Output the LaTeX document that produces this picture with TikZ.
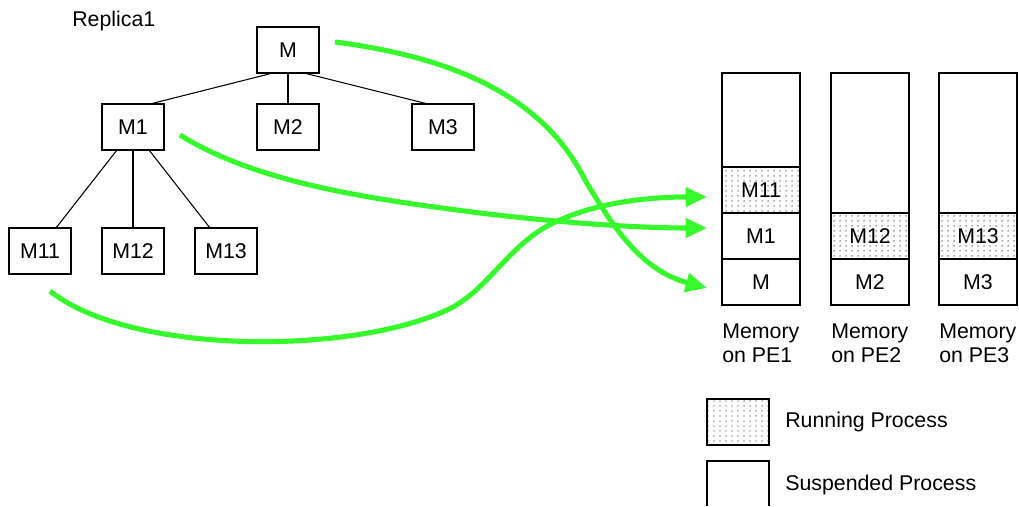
\documentclass[tikz,border=0pt]{standalone}
\usepackage{fontspec}
\setmainfont{Liberation Sans}
\usetikzlibrary{arrows.meta,calc,patterns.meta}
\definecolor{arrgreen}{RGB}{55,250,45}
\tikzdeclarepattern{
  name=sdots,
  type=uncolored,
  bounding box={(-0.7pt,-0.7pt) and (0.7pt,0.7pt)},
  tile size={(4.5pt,3.75pt)},
  code={\pgfpathcircle{\pgfpointorigin}{0.55pt}\pgfusepath{fill}}
}
\begin{document}
\begin{tikzpicture}[x=0.75pt,y=-0.75pt,
  every node/.style={font=\fontsize{16}{19}\selectfont},
  tbox/.style={draw,line width=1.1pt,minimum width=46.5pt,minimum height=34.5pt,inner sep=0pt,outer sep=0pt},
  memseg/.style={draw,line width=1.1pt,minimum width=58.5pt,inner sep=0pt,outer sep=0pt,anchor=north west},
  runfill/.style={pattern={sdots},pattern color=black!85},
  edge/.style={line width=0.8pt},
  arr/.style={draw=arrgreen,line width=3.8pt,-{Triangle[length=16pt,width=14pt]}},
  plain/.style={inner sep=0pt}
]
\useasboundingbox (0,0) rectangle (1019,506);

% tree
\node[plain,anchor=base west] (rep) at (72,27) {Replica1};
\node[tbox] (M) at (288,50) {M};
\node[tbox] (M1) at (133,127) {M1};
\node[tbox] (M2) at (288,127) {M2};
\node[tbox] (M3) at (443,127) {M3};
\node[tbox] (M11) at (40,251) {M11};
\node[tbox] (M12) at (133,251) {M12};
\node[tbox] (M13) at (226,251) {M13};

\draw[edge] ($(M.south)+(-15,0)$) -- ($(M1.north)+(17,0)$);
\draw[edge] (M.south) -- (M2.north);
\draw[edge] ($(M.south)+(16,0)$) -- ($(M3.north)+(-15,0)$);
\draw[edge] ($(M1.south)+(-16,0)$) -- ($(M11.north)+(16,0)$);
\draw[edge] (M1.south) -- (M12.north);
\draw[edge] ($(M1.south)+(16,0)$) -- ($(M13.north)+(-16,0)$);

% memory PE1
\node[memseg,minimum height=70.5pt] (p1top) at (722,73) {};
\node[memseg,runfill,minimum height=34.5pt] (p1m11) at (p1top.south west) {M11};
\node[memseg,minimum height=34.5pt] (p1m1) at (p1m11.south west) {M1\hspace{6pt}};
\node[memseg,minimum height=34.5pt] (p1m) at (p1m1.south west) {M};
% memory PE2
\node[memseg,minimum height=105pt] (p2top) at (831,73) {};
\node[memseg,runfill,minimum height=34.5pt] (p2m12) at (p2top.south west) {M12};
\node[memseg,minimum height=34.5pt] (p2m2) at (p2m12.south west) {M2\hspace{6pt}};
% memory PE3
\node[memseg,minimum height=105pt] (p3top) at (939,73) {};
\node[memseg,runfill,minimum height=34.5pt] (p3m13) at (p3top.south west) {M13};
\node[memseg,minimum height=34.5pt] (p3m3) at (p3m13.south west) {M3\hspace{6pt}};

% memory labels
\node[plain,anchor=base west] (l1a) at (722,338) {Memory};
\node[plain,anchor=base west] (l1b) at (722,362) {on PE1};
\node[plain,anchor=base west] (l2a) at (831,338) {Memory};
\node[plain,anchor=base west] (l2b) at (831,362) {on PE2};
\node[plain,anchor=base west] (l3a) at (939,338) {Memory};
\node[plain,anchor=base west] (l3b) at (939,362) {on PE3};

% legend
\node[tbox,runfill,anchor=north west] (legrun) at (707,399) {};
\node[plain,anchor=west] (legruntxt) at (785,422) {Running Process};
\coordinate (legsus) at (707,461);
\draw[line width=1.1pt] (707,506) -- (legsus) -- (769,461) -- (769,506);
\node[plain,anchor=west] (legsustxt) at (785,485) {Suspended Process};

% green arrows
\draw[arr] ($(M.east)+(16,-8)$) .. controls (460,58) and (545,100) .. (585,180)
   .. controls (612,225) and (640,270) .. ($(p1m.west)+(-15,6)$);
\draw[arr] ($(M1.east)+(16,8)$) .. controls (260,185) and (380,200) .. (480,213)
   .. controls (580,225) and (650,228) .. ($(p1m1.west)+(-15,-8)$);
\draw[arr] ($(M11.south)+(10,17)$) .. controls (130,355) and (350,355) .. (447,310)
   .. controls (490,290) and (510,240) .. (560,220)
   .. controls (600,202) and (650,197) .. ($(p1m11.west)+(-15,7)$);
\end{tikzpicture}
\end{document}
